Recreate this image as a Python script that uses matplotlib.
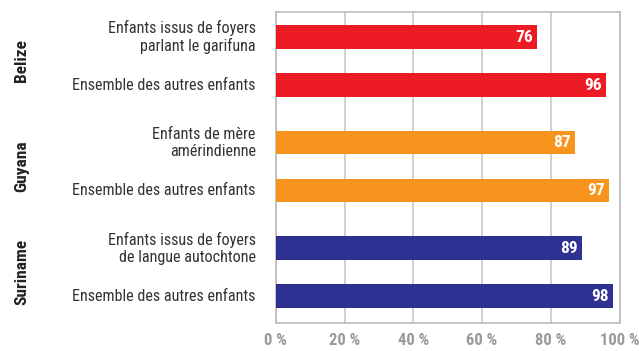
import numpy as np
import matplotlib.pyplot as plt

countries = ['Belize', 'Guyana', 'Suriname']
groups = [
    ['Enfants issus de foyers\nparlant le garifuna', 'Ensemble des autres enfants'],
    ['Enfants de mère\namérindienne', 'Ensemble des autres enfants'],
    ['Enfants issus de foyers\nde langue autochtone', 'Ensemble des autres enfants'],
]
values = [[76, 96], [87, 97], [89, 98]]
colors = ['#ED1C24', '#F7941D', '#2E3192']
xticks = [0, 20, 40, 60, 80, 100]

narrow = ['Roboto Condensed', 'DejaVu Sans']

fig = plt.figure(figsize=(6.39, 3.51), dpi=100)
ax = fig.add_axes([275.7 / 639, 1 - 323.3 / 351, 344 / 639, 311 / 351])

group_step = 2.2
for g, (labels, vals, col) in enumerate(zip(groups, values, colors)):
    ys = [g * group_step + i for i in range(len(vals))]
    ax.barh(ys, vals, height=0.49, color=col, zorder=3)
    for y, v, lab in zip(ys, vals, labels):
        ax.text(v - 1.2, y, str(v), ha='right', va='center', color='white',
                fontsize=12.5, fontweight='bold', family=narrow, zorder=4)
        ax.text(-5.8, y, lab, ha='right', va='center', color='#333333',
                fontsize=11.6, family=narrow, linespacing=1.15)
    ax.text(-73.8, np.mean(ys), countries[g], rotation=90, ha='center', va='center',
            color='#222222', fontsize=12.5, fontweight='bold', family=narrow)

ax.set_xlim(0, 100)
ax.set_ylim(5.965, -0.515)
ax.set_yticks([])
ax.set_xticks(xticks)
ax.set_xticklabels([f'{t} %' for t in xticks], color='#9A9A9A',
                   fontsize=12, fontweight='bold', family=narrow)
ax.tick_params(axis='x', length=0, pad=7)
ax.grid(axis='x', color='#C4C4C4', linewidth=1.1, zorder=1)
for s in ax.spines.values():
    s.set_color('#B8B8B8')
    s.set_linewidth(1.1)

fig.savefig('out.png', dpi=100)
